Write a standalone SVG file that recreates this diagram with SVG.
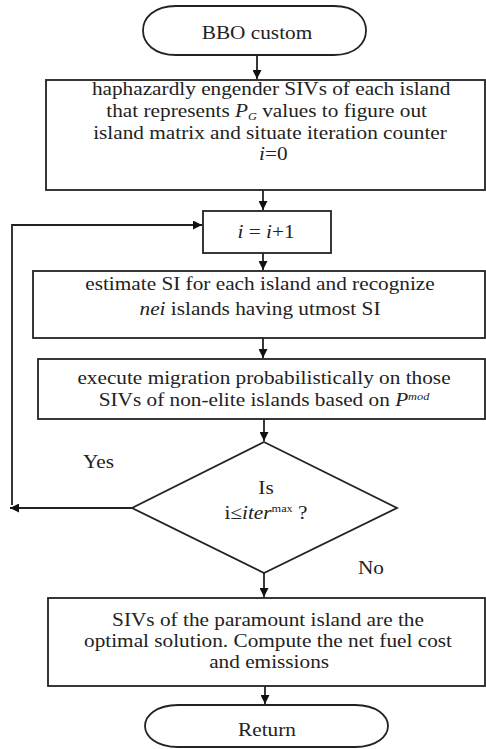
<svg xmlns="http://www.w3.org/2000/svg" width="486" height="749" viewBox="0 0 486 749">
<style>
.box{fill:#fff;stroke:#222;stroke-width:1.8}
.t{font-family:"Liberation Serif","Times New Roman",serif;font-size:19px;fill:#222;text-anchor:middle}
.it{font-style:italic}
.sm{font-size:11px}
.conn{fill:none;stroke:#222;stroke-width:1.8}
</style>
<defs>
<marker id="ah" viewBox="0 0 10 10" refX="10" refY="5" markerWidth="5" markerHeight="5" orient="auto" markerUnits="strokeWidth">
<path d="M0,0 L10,5 L0,10 z" fill="#111"/>
</marker>
</defs>
<rect width="486" height="749" fill="#fff"/>

<g id="start">
<path class="box" d="M176,6 H334 C356,6 366,18 366,30.5 C366,43 356,55 334,55 H176 C154,55 143,43 143,30.5 C143,18 154,6 176,6 z"/>
<g transform="matrix(1.12 0 0 1 -30.84 0)"><text class="t" x="257" y="39">BBO custom</text></g>
</g>

<g id="init">
<rect class="box" x="46" y="80" width="439" height="110"/>
<g transform="matrix(1.12 0 0 1 -32.4 0)">
<text class="t" x="271" y="95">haphazardly engender SIVs of each island</text>
<text class="t" x="267" y="117">that represents <tspan class="it">P</tspan><tspan class="sm it" dy="3">G</tspan><tspan dy="-3"> values to figure out</tspan></text>
<text class="t" x="270" y="139">island matrix and situate iteration counter</text>
<text class="t" x="273" y="160"><tspan class="it">i</tspan>=0</text>
</g>
</g>

<g id="increment">
<rect class="box" x="203" y="211" width="128" height="42"/>
<g transform="matrix(1.12 0 0 1 -31.92 0)"><text class="t" x="266" y="238"><tspan class="it">i</tspan> = <tspan class="it">i</tspan>+1</text></g>
</g>

<g id="estimate">
<rect class="box" x="33" y="271" width="452" height="67"/>
<g transform="matrix(1.12 0 0 1 -31.2 0)">
<text class="t" x="260" y="290">estimate SI for each island and recognize</text>
<text class="t" x="260" y="315"><tspan class="it">nei</tspan> islands having utmost SI</text>
</g>
</g>

<g id="migration">
<rect class="box" x="38" y="359" width="447" height="60"/>
<g transform="matrix(1.12 0 0 1 -31.68 0)">
<text class="t" x="264" y="384">execute migration probabilistically on those</text>
<text class="t" x="264" y="406">SIVs of non-elite islands based on <tspan class="it">P</tspan><tspan class="sm it" dy="-6">mod</tspan></text>
</g>
</g>

<g id="decision">
<polygon class="box" points="264,442 397,508 264,573 132,508"/>
<g transform="matrix(1.12 0 0 1 -31.92 0)">
<text class="t" x="266" y="494">Is</text>
<text class="t" x="266" y="519">i≤<tspan class="it">iter</tspan><tspan class="sm" dy="-7">max</tspan><tspan dy="7"> ?</tspan></text>
</g>
</g>

<g id="result">
<rect class="box" x="48" y="598" width="437" height="88"/>
<g transform="matrix(1.12 0 0 1 -32.16 0)">
<text class="t" x="268" y="626">SIVs of the paramount island are the</text>
<text class="t" x="268" y="647">optimal solution. Compute the net fuel cost</text>
<text class="t" x="269" y="668">and emissions</text>
</g>
</g>

<g id="end">
<path class="box" d="M178,705 H355 C377,705 388,716 388,726 C388,736 377,747 355,747 H178 C156,747 145,736 145,726 C145,716 156,705 178,705 z"/>
<g transform="matrix(1.12 0 0 1 -32.04 0)"><text class="t" x="267" y="736">Return</text></g>
</g>

<g id="labels">
<g transform="matrix(1.12 0 0 1 -11.82 0)"><text class="t" x="98.5" y="468">Yes</text></g>
<g transform="matrix(1.12 0 0 1 -44.52 0)"><text class="t" x="371" y="574">No</text></g>
</g>

<g id="connectors">
<line class="conn" x1="257" y1="55" x2="257" y2="79" marker-end="url(#ah)"/>
<line class="conn" x1="263" y1="190" x2="263" y2="210" marker-end="url(#ah)"/>
<line class="conn" x1="263" y1="253" x2="263" y2="270" marker-end="url(#ah)"/>
<line class="conn" x1="263" y1="338" x2="263" y2="358" marker-end="url(#ah)"/>
<line class="conn" x1="264" y1="419" x2="264" y2="441" marker-end="url(#ah)"/>
<line class="conn" x1="264" y1="573" x2="264" y2="597" marker-end="url(#ah)"/>
<line class="conn" x1="265" y1="686" x2="265" y2="704" marker-end="url(#ah)"/>
<line class="conn" x1="132" y1="508" x2="10" y2="508" marker-end="url(#ah)"/>
<polyline class="conn" points="12,505 12,225 202,225" marker-end="url(#ah)"/>
</g>
</svg>
